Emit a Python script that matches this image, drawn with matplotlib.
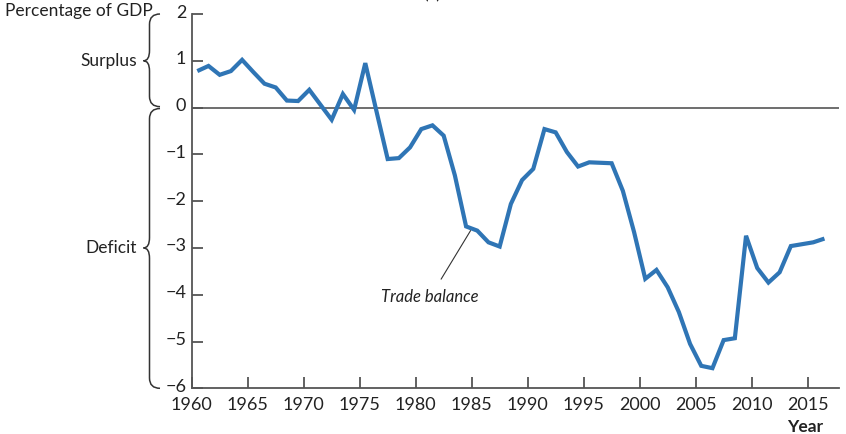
import numpy as np
import matplotlib
matplotlib.use('Agg')
import matplotlib.pyplot as plt
from matplotlib.path import Path
from matplotlib.patches import PathPatch
from matplotlib.transforms import blended_transform_factory, ScaledTranslation

plt.rcParams['font.family'] = ['Lato', 'DejaVu Sans']

# US trade balance, percentage of GDP
years = list(range(1960, 2017))
trade_balance = [0.78, 0.89, 0.70, 0.78, 1.02, 0.76, 0.51, 0.43, 0.15, 0.14,
                 0.38, 0.06, -0.26, 0.29, -0.05, 0.95, -0.08, -1.10, -1.08, -0.85,
                 -0.46, -0.38, -0.60, -1.45, -2.54, -2.63, -2.88, -2.97, -2.06, -1.55,
                 -1.31, -0.46, -0.53, -0.95, -1.26, -1.17, -1.18, -1.19, -1.78, -2.66,
                 -3.66, -3.47, -3.84, -4.37, -5.05, -5.52, -5.57, -4.97, -4.93, -2.74,
                 -3.43, -3.74, -3.52, -2.96, -2.92, -2.88, -2.80]
x_ticks = [1960, 1965, 1970, 1975, 1980, 1985, 1990, 1995, 2000, 2005, 2010, 2015]
y_ticks = [-6, -5, -4, -3, -2, -1, 0, 1, 2]

grey = '#555555'
blue = '#2f75b5'

W, H = 846, 434
fig = plt.figure(figsize=(W / 100, H / 100), dpi=100)
ax = fig.add_axes([191.7 / W, 1 - 388.3 / H, (839 - 191.7) / W, (388.3 - 14) / H])

# plot at mid-year
ax.plot(np.array(years) + 0.5, trade_balance, color=blue, lw=3.0,
        solid_joinstyle='miter', solid_capstyle='butt', zorder=3)
ax.axhline(0, color=grey, lw=1.2, zorder=2)

ax.set_xlim(1960, 2017.8)
ax.set_ylim(-6, 2)
ax.set_xticks(x_ticks)
ax.set_yticks(y_ticks)
ax.tick_params(direction='in', length=8, width=1.3, color=grey,
               labelsize=13, labelcolor='#222222', pad=4)
ax.tick_params(axis='x', pad=6)
# y labels sit a touch above their ticks in the original
up = ScaledTranslation(0, 3 / 100, fig.dpi_scale_trans)
for lbl in ax.get_yticklabels():
    lbl.set_transform(lbl.get_transform() + up)
for s in ['top', 'right']:
    ax.spines[s].set_visible(False)
for s in ['left', 'bottom']:
    ax.spines[s].set_color(grey)
    ax.spines[s].set_linewidth(1.3)

# curly braces left of the y axis
tr = blended_transform_factory(fig.transFigure, ax.transData)


def brace(y_top, y_bot, y_tip, r=0.22):
    xe, xm, xt = 160 / W, 149.5 / W, 143.5 / W
    verts = [(xe, y_top), (xm, y_top), (xm, y_top - r),
             (xm, y_tip + r),
             (xm, y_tip), (xt, y_tip),
             (xm, y_tip), (xm, y_tip - r),
             (xm, y_bot + r),
             (xm, y_bot), (xe, y_bot)]
    codes = [Path.MOVETO, Path.CURVE3, Path.CURVE3,
             Path.LINETO,
             Path.CURVE3, Path.CURVE3,
             Path.CURVE3, Path.CURVE3,
             Path.LINETO,
             Path.CURVE3, Path.CURVE3]
    fig.add_artist(PathPatch(Path(verts, codes), transform=tr, fill=False,
                             edgecolor='#333333', lw=1.1))


brace(2, 0.02, 1)
brace(-0.02, -6, -3)
fig.text(137 / W, 1, 'Surplus', transform=tr, ha='right', va='center',
         fontsize=12.5, color='#222222')
fig.text(137 / W, -3, 'Deficit', transform=tr, ha='right', va='center',
         fontsize=12.5, color='#222222')

fig.text(5 / W, 1 - 11 / H, 'Percentage of GDP', ha='left', va='center',
         fontsize=12.5, color='#222222')
fig.text(805 / W, 1 - 427 / H, 'Year', ha='center', va='center',
         fontsize=12.5, fontweight='bold', color='#222222')
fig.text(432 / W, 1 + 1 / H, '(a)', ha='center', va='baseline',
         fontsize=12.5, color='#222222')

ax.annotate('Trade balance', xy=(1984.9, -2.63), xytext=(1981.3, -4.05),
            ha='center', va='center', fontsize=12, style='italic',
            color='#222222',
            arrowprops=dict(arrowstyle='-', color='#333333', lw=0.8,
                            shrinkA=6, shrinkB=0))

fig.savefig('out.png', dpi=100)
